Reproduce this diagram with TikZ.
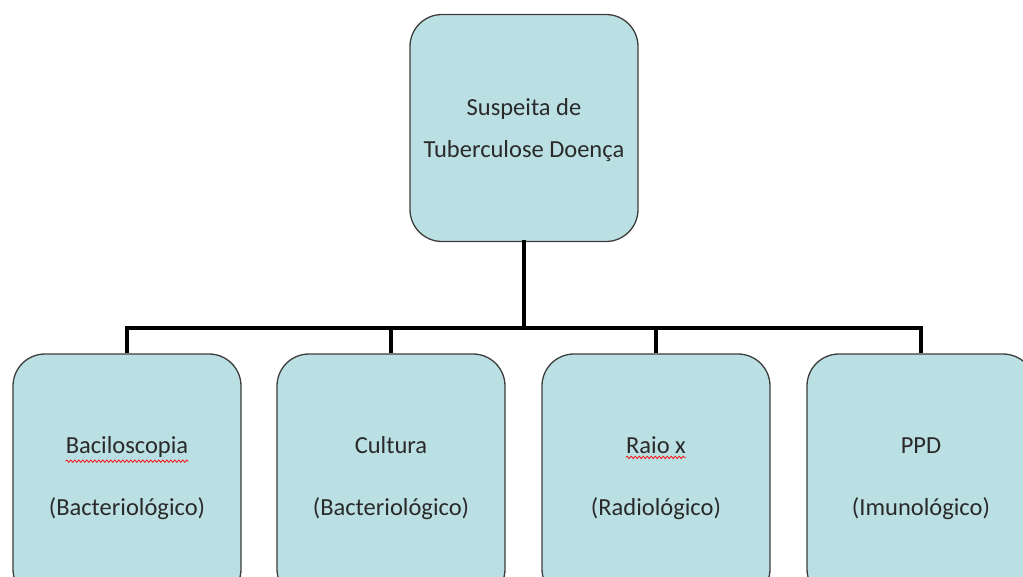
\documentclass[tikz,border=0pt]{standalone}
\usepackage{fontspec}
\setmainfont{Carlito}
\usetikzlibrary{decorations.pathmorphing}
\definecolor{boxfill}{HTML}{BBE0E3}
\definecolor{boxline}{HTML}{3C3C3C}
\definecolor{txt}{HTML}{2A2A2A}
\begin{document}
\begin{tikzpicture}[x=1pt,y=-1pt,
  card/.style={draw=boxline,line width=1.3pt,fill=boxfill,rounded corners=32pt,
    minimum width=228pt,inner sep=0pt},
  topcard/.style={card,minimum height=227pt},
  lowcard/.style={card,minimum height=247pt},
  lbl/.style={font=\fontsize{24.5}{24.5}\selectfont,text=txt,anchor=base,inner sep=0pt},
  link/.style={line width=4.5pt,line cap=rect},
  spell/.style={draw=red,line width=0.7pt,decorate,decoration={snake,amplitude=1.2pt,segment length=4pt}}]
\useasboundingbox (0,0) rectangle (1023,576);
\clip (0,0) rectangle (1023,576);
\node[topcard] (top) at (524,128) {};
\node[lbl] (t1) at (524,115) {Suspeita de};
\node[lbl] (t2) at (524,157) {Tuberculose Doença};
\foreach \i/\x in {1/127,2/391,3/656,4/921}{
  \node[lowcard] (b\i) at (\x,477.5) {};
}
\node[lbl] (a1) at (127,453) {Baciloscopia};
\node[lbl] (a2) at (127,515) {(Bacteriológico)};
\node[lbl] (c1) at (391,453) {Cultura};
\node[lbl] (c2) at (391,515) {(Bacteriológico)};
\node[lbl] (r1) at (656,453) {Raio x};
\node[lbl] (r2) at (656,515) {(Radiológico)};
\node[lbl] (p1) at (921,453) {PPD};
\node[lbl] (p2) at (921,515) {(Imunológico)};
\draw[spell] ([yshift=-4pt]a1.south west) -- ([yshift=-4pt]a1.south east);
\draw[spell] ([yshift=-4pt]r1.south west) -- ([yshift=-4pt]r1.south east);
\coordinate (hub) at (top.south |- 0,328);
\draw[link] (top.south) -- (hub);
\draw[link,line cap=butt] (b1.north) |- (hub) -| (b4.north);
\draw[link,line cap=butt] (b2.north) -- (b2.north |- hub);
\draw[link,line cap=butt] (b3.north) -- (b3.north |- hub);
\end{tikzpicture}
\end{document}
